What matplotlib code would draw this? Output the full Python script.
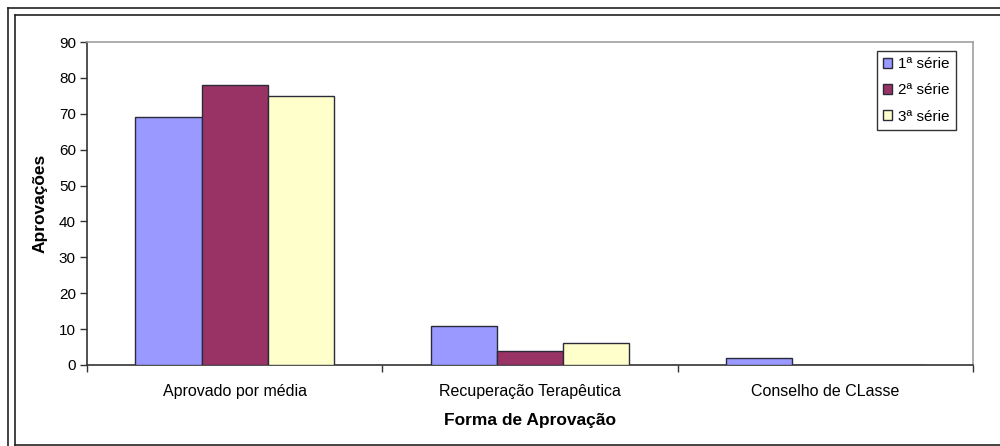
import matplotlib
matplotlib.use("Agg")
import matplotlib.pyplot as plt
import numpy as np
from matplotlib.lines import Line2D

categories = ["Aprovado por média", "Recuperação Terapêutica", "Conselho de CLasse"]
series_names = ["1ª série", "2ª série", "3ª série"]
serie1 = [69, 11, 2]
serie2 = [78, 4, 0]
serie3 = [75, 6, 0]
colors = ["#9999FF", "#993366", "#FFFFCC"]
yticks = [0, 10, 20, 30, 40, 50, 60, 70, 80, 90]

plt.rcParams['font.family'] = ['Liberation Sans', 'DejaVu Sans']

W, H = 1000, 446
fig = plt.figure(figsize=(10, 4.46), dpi=100)
ax = fig.add_axes([87 / W, 1 - 365 / H, (973 - 87) / W, (365 - 42) / H])

x = np.arange(len(categories))
bw = 0.224
for i, (vals, c, name) in enumerate(zip([serie1, serie2, serie3], colors, series_names)):
    ax.bar(x + (i - 1) * bw, vals, width=bw, color=c, edgecolor="#2a2a3a",
           linewidth=1.0, label=name, zorder=3)

ax.set_xlim(-0.5, len(categories) - 0.5)
ax.set_ylim(0, 90)
ax.set_yticks(yticks)
ax.set_yticklabels([str(v) for v in yticks], fontsize=11)
ax.set_xticks(x)
ax.set_xticklabels(categories, fontsize=11.5)
ax.tick_params(axis='x', length=0, pad=14)
ax.set_xticks(np.arange(len(categories) + 1) - 0.5, minor=True)
ax.tick_params(axis='x', which='minor', length=5, width=1, color='#333333', direction='out')
ax.tick_params(axis='y', length=5, width=1, color='#333333', direction='out', pad=3)

for s in ['top', 'right']:
    ax.spines[s].set_color('#a0a0a0')
    ax.spines[s].set_linewidth(1.2)
for s in ['left', 'bottom']:
    ax.spines[s].set_color('#333333')
    ax.spines[s].set_linewidth(1.2)

ax.set_ylabel("Aprovações", fontsize=12.5, fontweight='bold', labelpad=8)
ax.set_xlabel("Forma de Aprovação", fontsize=12.5, fontweight='bold', labelpad=10)

leg = ax.legend(loc='upper right', bbox_to_anchor=(956 / W, 1 - 51 / H),
                bbox_transform=fig.transFigure, fontsize=11, frameon=True,
                fancybox=False, edgecolor='black', handlelength=0.6, handleheight=0.6,
                handletextpad=0.4, labelspacing=0.8, borderpad=0.4, borderaxespad=0)
leg.get_frame().set_linewidth(1.0)

# Outer frames
def fl(x0, y0, x1, y1, c='#222222', lw=1.2):
    fig.add_artist(Line2D([x0 / W, x1 / W], [1 - y0 / H, 1 - y1 / H], color=c, lw=lw,
                          transform=fig.transFigure))

fl(7.5, 7.5, 1000, 7.5)
fl(7.5, 7.5, 7.5, 446)
fl(14.5, 14.5, 1000, 14.5)
fl(14.5, 14.5, 14.5, 444.5)
fl(14.5, 444.5, 1000, 444.5)

fig.savefig("out.png", dpi=100)
